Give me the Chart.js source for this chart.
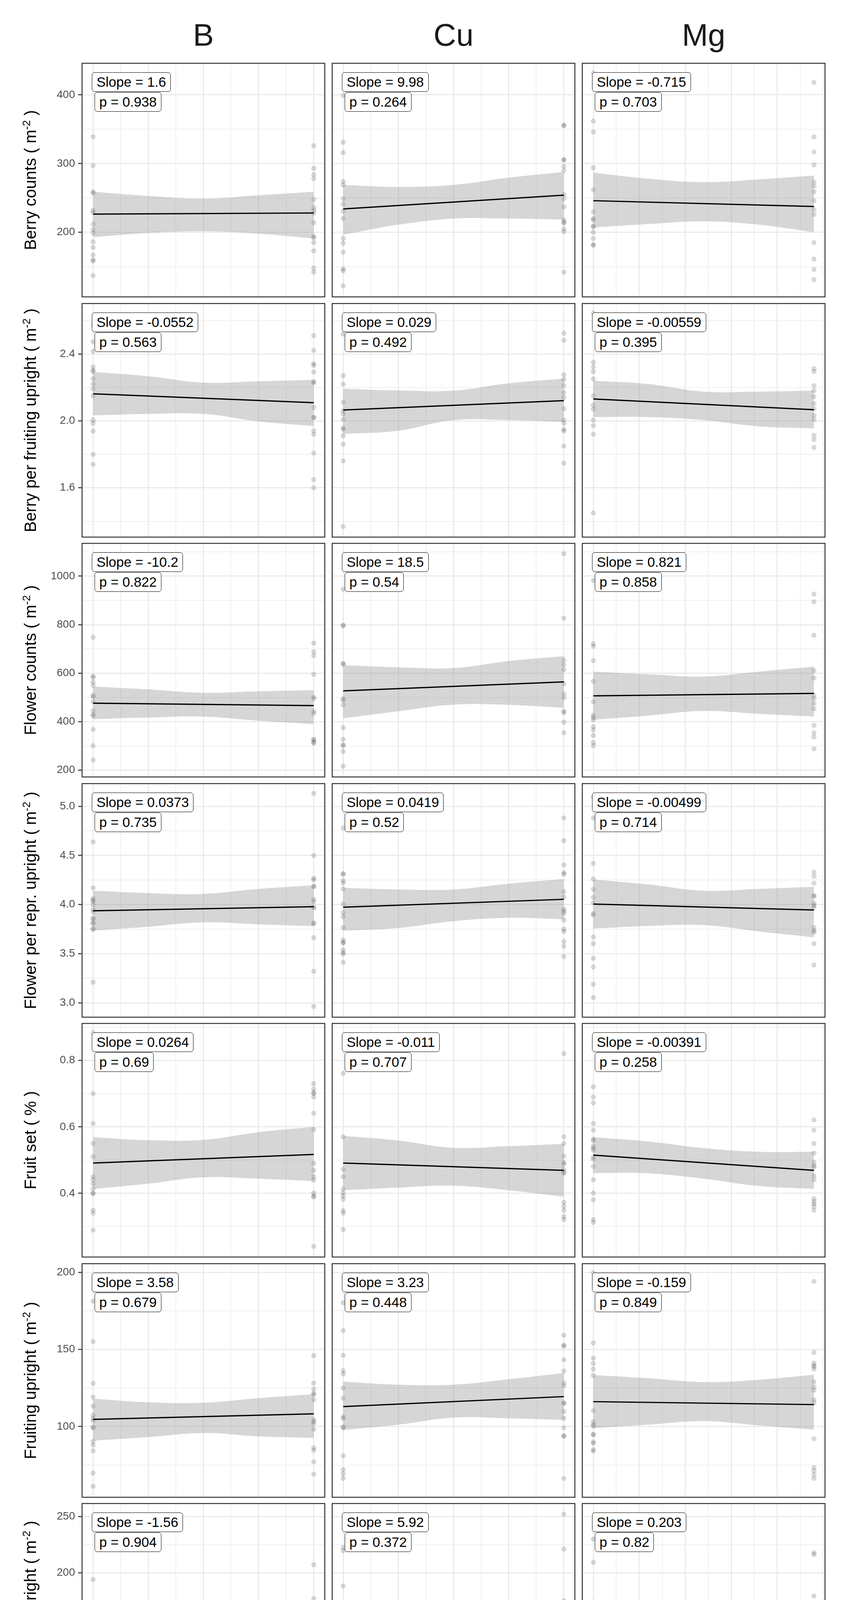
<!DOCTYPE html>
<html>
<head>
<meta charset="utf-8">
<script src="https://cdn.jsdelivr.net/npm/chart.js@4.4.1/dist/chart.umd.min.js"></script>
<style>
html,body{margin:0;padding:0;background:#fff;}
#page{position:relative;width:2175px;height:4627px;background:#fff;overflow:hidden;font-family:"Liberation Sans",Arial,sans-serif;}
#page canvas{position:absolute;}
.strip{position:absolute;font-size:80px;line-height:80px;height:80px;color:#1a1a1a;text-align:center;white-space:nowrap;}
.ytitle{position:absolute;font-size:42px;line-height:42px;height:42px;width:900px;color:#000;text-align:center;white-space:nowrap;transform:rotate(-90deg);transform-origin:50% 50%;}
.xtitle{position:absolute;font-size:70px;line-height:70px;height:70px;width:1400px;color:#000;text-align:center;white-space:nowrap;}
.sup{font-size:0.66em;position:relative;top:-0.55em;}
.lab{position:absolute;font-size:35px;line-height:40px;padding:4px 11px;border:1.8px solid #000;border-radius:7px;background:#fff;white-space:nowrap;color:#000;}
</style>
</head>
<body>
<div id="page"></div>
<script>
// ---------------- categories / axes ----------------
const columns = ["B", "Cu", "Mg"];
const doseMax = [1, 2, 12];
const bandFractions = [0, 0.25, 0.5, 0.75, 1];
const rowTitles = ["Berry counts", "Berry per fruiting upright", "Flower counts",
  "Flower per repr. upright", "Fruit set", "Fruiting upright", "Reproductive upright"];
const rowUnits = ["m2", "m2", "m2", "m2", "%", "m2", "m2"];
const xMajorB = [0, 0.25, 0.5, 0.75, 1];
const xLabelsB = ["0.00", "0.25", "0.50", "0.75", "1.00"];
const xMinorB = [0.125, 0.375, 0.625, 0.875];
const xMajorCu = [0, 0.5, 1, 1.5, 2];
const xLabelsCu = ["0.0", "0.5", "1.0", "1.5", "2.0"];
const xMinorCu = [0.25, 0.75, 1.25, 1.75];
const xMajorMg = [0, 2.5, 5, 7.5, 10, 12.5];
const xLabelsMg = ["0.0", "2.5", "5.0", "7.5", "10.0", "12.5"];
const xMinorMg = [1.25, 3.75, 6.25, 8.75, 11.25];
const xLimits = [[-0.05, 1.05], [-0.1, 2.1], [-0.6, 12.6]];
const yLimits = [[106, 446], [1.305, 2.702], [172, 1135], [2.853, 5.231], [0.208, 0.9115], [54.1, 205.6], [53.3, 261.7]];
const yMajor = [[200, 300, 400], [1.6, 2.0, 2.4], [200, 400, 600, 800, 1000], [3.0, 3.5, 4.0, 4.5, 5.0], [0.4, 0.6, 0.8], [100, 150, 200], [100, 150, 200, 250]];
const yLabels = [["200", "300", "400"], ["1.6", "2.0", "2.4"], ["200", "400", "600", "800", "1000"], ["3.0", "3.5", "4.0", "4.5", "5.0"], ["0.4", "0.6", "0.8"], ["100", "150", "200"], ["100", "150", "200", "250"]];
const yMinor = [[150, 250, 350], [1.4, 1.8, 2.2, 2.6], [300, 500, 700, 900, 1100], [3.25, 3.75, 4.25, 4.75], [0.3, 0.5, 0.7, 0.9], [75, 125, 175], [75, 125, 175, 225]];
const slopeTexts = [["1.6", "9.98", "-0.715"], ["-0.0552", "0.029", "-0.00559"], ["-10.2", "18.5", "0.821"],
  ["0.0373", "0.0419", "-0.00499"], ["0.0264", "-0.011", "-0.00391"], ["3.58", "3.23", "-0.159"], ["-1.56", "5.92", "0.203"]];
const pTexts = [["0.938", "0.264", "0.703"], ["0.563", "0.492", "0.395"], ["0.822", "0.54", "0.858"],
  ["0.735", "0.52", "0.714"], ["0.69", "0.707", "0.258"], ["0.679", "0.448", "0.849"], ["0.904", "0.372", "0.82"]];

// ---------------- data: [B, Cu, Mg] ----------------
const berryCountsZero = [[339,297,259,257,232,229,212,204,199,186,178,167,160,158,137],[399,331,316,274,269,249,241,231,220,191,184,171,147,144,122],[432,362,346,294,262,230,220,218,209,208,200,191,182,181]];
const berryCountsMax = [[326,293,284,278,248,236,232,228,214,194,192,185,173,148,142],[356,355,306,305,296,290,255,249,237,218,215,213,205,201,142],[418,339,317,298,273,267,259,246,233,226,185,161,146,131]];
const berryCountsFit = [[226.5, 228.1], [234, 254], [246, 237.5]];
const berryCountsUpper = [[259, 253, 249, 254, 259], [269, 266, 269, 279.5, 288], [287, 278, 273, 277, 282.5]];
const berryCountsLower = [[193, 199, 201.5, 198, 191], [196.5, 211, 220, 220, 218.5], [207, 212, 216, 211, 200]];

const berryPerUprightZero = [[2.571,2.473,2.416,2.323,2.304,2.295,2.253,2.220,2.192,2.150,2.005,1.986,1.939,1.799,1.740],[2.519,2.271,2.220,2.112,2.061,2.042,2.009,1.958,1.950,1.911,1.860,1.761,1.368],[2.646,2.351,2.323,2.295,2.251,2.150,2.094,2.070,2.005,1.972,1.920,1.450]];
const berryPerUprightMax = [[2.510,2.421,2.342,2.332,2.292,2.234,2.229,2.080,2.022,2.019,1.941,1.920,1.808,1.649,1.600],[2.524,2.482,2.276,2.248,2.211,2.168,2.140,2.072,2.005,1.986,1.949,1.939,1.850,1.747],[2.313,2.295,2.211,2.181,2.145,2.103,2.072,2.033,2.009,1.913,1.888,1.841]];
const berryPerUprightFit = [[2.162, 2.109], [2.065, 2.121], [2.131, 2.067]];
const berryPerUprightUpper = [[2.293,2.267,2.229,2.237,2.245],[2.192,2.182,2.181,2.225,2.253],[2.240,2.220,2.175,2.175,2.181]];
const berryPerUprightLower = [[2.033,2.042,2.042,1.997,1.969],[1.922,1.941,2.005,2.005,1.993],[2.023,2.023,2.005,1.967,1.955]];

const flowerCountsZero = [[748,588,582,563,550,508,503,482,445,430,424,368,301,242],[946,798,795,640,637,495,488,469,375,327,305,301,277,216],[982,721,711,652,566,482,427,417,408,379,366,343,314,301]];
const flowerCountsMax = [[724,688,672,595,501,495,443,434,328,324,315,311],[1092,827,653,634,614,556,514,498,443,437,398,354],[926,894,756,611,580,508,495,475,453,385,354,337,288]];
const flowerCountsFit = [[476, 466], [527, 564], [506.5, 516.4]];
const flowerCountsUpper = [[545,533,519,525,530],[633,624,621,650,670],[606,595,586,606,627]];
const flowerCountsLower = [[410,417,421,404,390],[414,443,470,469,457],[408,425,444,432,421]];

const flowerPerUprightZero = [[4.637,4.169,4.061,4.045,4.029,3.997,3.949,3.925,3.861,3.850,3.814,3.806,3.758,3.745,3.209],[4.780,4.315,4.307,4.244,4.220,4.159,4.005,3.917,3.877,3.766,3.639,3.615,3.607,3.538,3.511,3.495,3.411],[5.096,4.881,4.419,4.260,4.153,4.073,4.016,3.909,3.893,3.670,3.602,3.452,3.363,3.189,3.053]];
const flowerPerUprightMax = [[5.131,4.498,4.268,4.252,4.188,4.180,4.053,4.029,3.973,3.965,3.814,3.803,3.662,3.320,2.962],[4.881,4.650,4.403,4.323,4.307,4.132,4.076,3.952,3.933,3.909,3.841,3.750,3.726,3.623,3.575,3.471],[4.331,4.288,4.217,4.092,4.084,4.013,3.989,3.973,3.766,3.734,3.718,3.602,3.384]];
const flowerPerUprightFit = [[3.936, 3.978], [3.973, 4.053], [4.005, 3.944]];
const flowerPerUprightUpper = [[4.140,4.116,4.108,4.159,4.196],[4.169,4.153,4.153,4.212,4.260],[4.255,4.204,4.140,4.159,4.180]];
const flowerPerUprightLower = [[3.734,3.774,3.818,3.798,3.779],[3.734,3.761,3.830,3.865,3.850],[3.755,3.782,3.790,3.726,3.666]];

const fruitSetZero = [[0.884,0.700,0.610,0.550,0.510,0.450,0.441,0.429,0.413,0.400,0.399,0.349,0.340,0.289],[0.761,0.570,0.472,0.450,0.413,0.401,0.392,0.382,0.348,0.340,0.291],[0.721,0.690,0.672,0.610,0.590,0.563,0.559,0.542,0.535,0.530,0.509,0.502,0.481,0.441,0.401,0.380,0.321,0.312]];
const fruitSetMax = [[0.730,0.714,0.704,0.700,0.690,0.641,0.592,0.490,0.469,0.450,0.440,0.401,0.392,0.389,0.240],[0.821,0.570,0.550,0.512,0.493,0.488,0.472,0.464,0.460,0.373,0.361,0.349,0.330,0.321],[0.621,0.590,0.550,0.521,0.493,0.483,0.479,0.453,0.441,0.384,0.375,0.368,0.360,0.349]];
const fruitSetFit = [[0.491, 0.517], [0.491, 0.469], [0.515, 0.469]];
const fruitSetUpper = [[0.569,0.560,0.561,0.584,0.600],[0.573,0.559,0.537,0.542,0.549],[0.569,0.556,0.536,0.525,0.525]];
const fruitSetLower = [[0.413,0.429,0.448,0.444,0.437],[0.409,0.417,0.423,0.409,0.390],[0.461,0.460,0.444,0.422,0.413]];

const fruitingUprightZero = [[181.3,155.1,128.1,119.1,113.2,107.3,105.3,103.7,99.7,99.0,90.3,88.0,84.2,69.8,61.2],[180.2,162.2,146.1,136.2,134.1,125.0,118.4,106.3,105.3,99.7,99.2,81.0,72.0,69.3,66.3],[199.7,154.1,144.3,140.9,137.2,133.1,110.3,103.2,101.2,100.2,95.1,94.6,90.1,89.1,85.0,84.0]];
const fruitingUprightMax = [[146.0,128.1,124.2,121.5,120.7,117.4,104.3,103.2,101.7,98.2,86.2,84.5,77.1,69.0],[159.2,152.8,152.1,143.3,136.0,128.3,126.5,115.4,114.9,109.8,105.3,99.2,94.1,93.6,66.3],[194.1,148.0,141.2,139.7,138.7,137.2,129.1,125.7,123.5,117.4,115.4,92.1,73.4,71.3,68.8,66.3]];
const fruitingUprightFit = [[104.6, 108.2], [112.9, 119.4], [116.1, 114.2]];
const fruitingUprightUpper = [[118.1,115.7,115.4,118.4,121.0],[129.1,127.1,127.1,130.6,134.7],[133.4,131.3,128.8,130.3,133.6]];
const fruitingUprightLower = [[90.8,93.1,95.8,93.6,92.6],[97.7,101.2,105.8,105.3,104.3],[98.9,101.2,103.5,100.7,97.9]];

const reproUprightZero = [[193.9,153.3,149.2,143.9,142.5,137.6,136.9,127.9,126.9,125.1,110.8,109.9,103.9,99.3,77.5,74.4,71.7],[222.4,219.6,188.1,165.8,155.0,151.5,132.8,124.4,104.3,94.2,77.9,74.4,71.7,69.6,63.3,62.2],[230.0,209.2,173.8,157.1,140.4,117.9,114.7,108.5,107.1,98.1,88.3,85.6,71.9]];
const reproUprightMax = [[207.1,176.9,169.2,132.1,125.1,118.2,112.6,111.9,103.9,84.9,82.8,81.4,79.3],[252.2,221.0,174.9,163.3,152.9,151.1,129.3,122.4,119.6,116.8,115.4,114.0,106.4,103.6,100.8,98.8],[217.8,216.1,179.3,153.3,144.3,137.6,134.2,121.0,115.4,114.7,97.4,93.9,90.4,85.3]];
const reproUprightFit = [[121.4, 120.0], [127.6, 139.3], [126.9, 129.3]];
const reproUprightUpper = [[139.7,136.3,132.4,133.5,135.6],[152.9,151.1,150.6,157.8,165.0],[149.7,145.6,146.3,151.5,155.3]];
const reproUprightLower = [[103.3,104.7,106.7,102.2,97.8],[100.4,107.8,115.7,116.1,113.6],[104.3,109.2,113.3,111.3,108.8]];

// ---------------- assembly ----------------
const rows = [
  {zero: berryCountsZero, max: berryCountsMax, fit: berryCountsFit, upper: berryCountsUpper, lower: berryCountsLower},
  {zero: berryPerUprightZero, max: berryPerUprightMax, fit: berryPerUprightFit, upper: berryPerUprightUpper, lower: berryPerUprightLower},
  {zero: flowerCountsZero, max: flowerCountsMax, fit: flowerCountsFit, upper: flowerCountsUpper, lower: flowerCountsLower},
  {zero: flowerPerUprightZero, max: flowerPerUprightMax, fit: flowerPerUprightFit, upper: flowerPerUprightUpper, lower: flowerPerUprightLower},
  {zero: fruitSetZero, max: fruitSetMax, fit: fruitSetFit, upper: fruitSetUpper, lower: fruitSetLower},
  {zero: fruitingUprightZero, max: fruitingUprightMax, fit: fruitingUprightFit, upper: fruitingUprightUpper, lower: fruitingUprightLower},
  {zero: reproUprightZero, max: reproUprightMax, fit: reproUprightFit, upper: reproUprightUpper, lower: reproUprightLower}
];
const xMajor = [xMajorB, xMajorCu, xMajorMg];
const xLabels = [xLabelsB, xLabelsCu, xLabelsMg];
const xMinor = [xMinorB, xMinorCu, xMinorMg];

// ---------------- layout ----------------
const PANEL_LEFT = [210, 850, 1490];
const PANEL_W = 621;
const PANEL_TOP = [162, 776.5, 1391, 2005.5, 2620, 3234.5, 3849];
const PANEL_H = 598;
const Y_W = 100, X_H = 50;
const PAD = {left: 10, right: 30, top: 10, bottom: 10};
const FONT = "'Liberation Sans', Arial, sans-serif";
Chart.defaults.font.family = FONT;
const page = document.getElementById('page');

const panelBorder = {id: 'panelBorder', afterDraw(chart) {
  const a = chart.chartArea, ctx = chart.ctx; ctx.save(); ctx.strokeStyle = '#333333'; ctx.lineWidth = 2.5;
  ctx.strokeRect(a.left, a.top, a.right - a.left, a.bottom - a.top); ctx.restore(); }};
function isIn(arr, v) { return arr.some(a => Math.abs(a - v) < 1e-9); }

function makePanel(r, c) {
  const isLeft = c === 0, isBottom = r === rows.length - 1;
  const yW = isLeft ? Y_W : 0, xH = isBottom ? X_H : 0;
  const w = Math.round(PANEL_W + PAD.left + PAD.right + yW);
  const h = Math.round(PANEL_H + PAD.top + PAD.bottom + xH);
  const cv = document.createElement('canvas');
  cv.width = w; cv.height = h; cv.style.width = w + 'px'; cv.style.height = h + 'px';
  cv.style.left = (PANEL_LEFT[c] - PAD.left - yW) + 'px'; cv.style.top = (PANEL_TOP[r] - PAD.top) + 'px';
  page.appendChild(cv);
  const row = rows[r], xm = doseMax[c];
  const pts = row.zero[c].map(v => ({x: 0, y: v})).concat(row.max[c].map(v => ({x: xm, y: v})));
  const up = bandFractions.map((f, i) => ({x: f * xm, y: row.upper[c][i]}));
  const lo = bandFractions.map((f, i) => ({x: f * xm, y: row.lower[c][i]}));
  const fit = [{x: 0, y: row.fit[c][0]}, {x: xm, y: row.fit[c][1]}];
  const xTickVals = xMajor[c].concat(xMinor[c]);
  const yTickVals = yMajor[r].concat(yMinor[r]);
  new Chart(cv, {
    type: 'line',
    data: {datasets: [
      {data: fit, borderColor: '#000000', borderWidth: 3.2, pointRadius: 0, fill: false, tension: 0, order: 0},
      {data: up, borderColor: 'rgba(0,0,0,0)', borderWidth: 0, pointRadius: 0, fill: false, tension: 0.4, order: 1},
      {data: lo, borderColor: 'rgba(0,0,0,0)', borderWidth: 0, pointRadius: 0, fill: '-1', backgroundColor: 'rgba(153,153,153,0.4)', tension: 0.4, order: 1},
      {data: pts, showLine: false, pointRadius: 6, pointBackgroundColor: 'rgba(0,0,0,0.15)', pointBorderColor: 'rgba(0,0,0,0.10)', pointBorderWidth: 1, order: 2}
    ]},
    options: {
      responsive: false, animation: false, events: [], devicePixelRatio: 1,
      layout: {padding: PAD},
      plugins: {legend: {display: false}, tooltip: {enabled: false}},
      scales: {
        x: {type: 'linear', min: xLimits[c][0], max: xLimits[c][1],
          afterBuildTicks: s => { s.ticks = xTickVals.map(v => ({value: v})); },
          afterFit: s => { s.height = xH; s.paddingLeft = 0; s.paddingRight = 0; },
          border: {display: false},
          grid: {color: '#EBEBEB', lineWidth: ctx => (ctx.tick && isIn(xMajor[c], ctx.tick.value)) ? 3 : 1.5,
            drawTicks: isBottom, tickLength: 9, tickWidth: 2.5,
            tickColor: ctx => (ctx.tick && isIn(xMajor[c], ctx.tick.value)) ? '#333333' : 'rgba(0,0,0,0)'},
          ticks: {display: isBottom, autoSkip: false, maxRotation: 0, minRotation: 0, padding: 3, color: '#4D4D4D', font: {family: FONT, size: 28},
            callback: v => { const i = xMajor[c].findIndex(a => Math.abs(a - v) < 1e-9); return i >= 0 ? xLabels[c][i] : ''; }}},
        y: {type: 'linear', min: yLimits[r][0], max: yLimits[r][1],
          afterBuildTicks: s => { s.ticks = yTickVals.map(v => ({value: v})); },
          afterFit: s => { s.width = yW; s.paddingTop = 0; s.paddingBottom = 0; },
          border: {display: false},
          grid: {color: '#EBEBEB', lineWidth: ctx => (ctx.tick && isIn(yMajor[r], ctx.tick.value)) ? 3 : 1.5,
            drawTicks: isLeft, tickLength: 10, tickWidth: 2.5,
            tickColor: ctx => (ctx.tick && isIn(yMajor[r], ctx.tick.value)) ? '#333333' : 'rgba(0,0,0,0)'},
          ticks: {display: isLeft, autoSkip: false, padding: 8, color: '#4D4D4D', font: {family: FONT, size: 28},
            callback: v => { const i = yMajor[r].findIndex(a => Math.abs(a - v) < 1e-9); return i >= 0 ? yLabels[r][i] : ''; }}}
      }
    },
    plugins: [panelBorder]
  });
  const l1 = document.createElement('div'); l1.className = 'lab'; l1.textContent = 'Slope = ' + slopeTexts[r][c];
  l1.style.left = (PANEL_LEFT[c] + 25) + 'px'; l1.style.top = (PANEL_TOP[r] + 23) + 'px'; page.appendChild(l1);
  const l2 = document.createElement('div'); l2.className = 'lab'; l2.textContent = 'p = ' + pTexts[r][c];
  l2.style.left = (PANEL_LEFT[c] + 32) + 'px'; l2.style.top = (PANEL_TOP[r] + 74) + 'px'; page.appendChild(l2);
}
for (let r = 0; r < rows.length; r++) for (let c = 0; c < columns.length; c++) makePanel(r, c);

columns.forEach((name, c) => {
  const d = document.createElement('div'); d.className = 'strip'; d.textContent = name;
  d.style.left = (PANEL_LEFT[c] - 100) + 'px'; d.style.width = (PANEL_W + 200) + 'px'; d.style.top = '50px'; page.appendChild(d);
});
rowTitles.forEach((t, r) => {
  const d = document.createElement('div'); d.className = 'ytitle';
  if (rowUnits[r] === '%') { d.textContent = t + ' ( % )'; }
  else { d.appendChild(document.createTextNode(t + ' ( m')); const s = document.createElement('span'); s.className = 'sup'; s.textContent = '-2'; d.appendChild(s); d.appendChild(document.createTextNode(' )')); }
  const cx = 77.5, cy = PANEL_TOP[r] + PANEL_H / 2;
  d.style.left = (cx - 450) + 'px'; d.style.top = (cy - 21) + 'px'; page.appendChild(d);
});
(function () {
  const d = document.createElement('div'); d.className = 'xtitle';
  d.appendChild(document.createTextNode('Dose (kg ha')); const s = document.createElement('span'); s.className = 'sup'; s.textContent = '-1';
  d.appendChild(s); d.appendChild(document.createTextNode(' )'));
  d.style.left = (1161 - 700) + 'px'; d.style.top = '4517px'; page.appendChild(d);
})();
</script>
</body>
</html>
